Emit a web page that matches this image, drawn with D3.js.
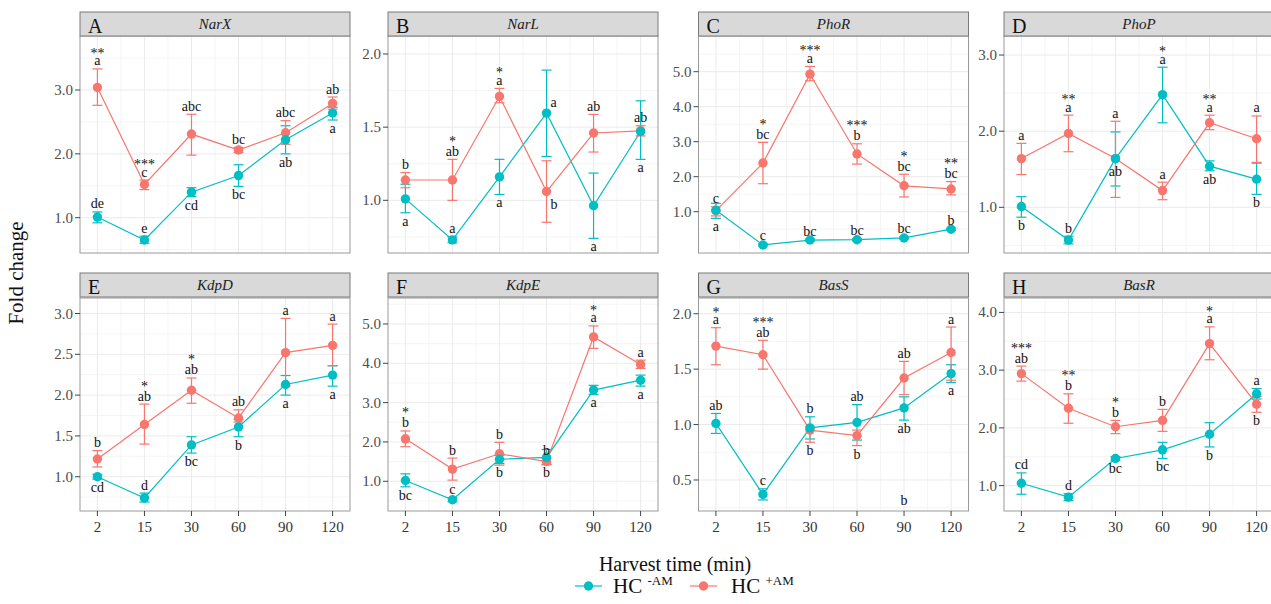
<!DOCTYPE html>
<html><head><meta charset="utf-8">
<script src="https://cdn.jsdelivr.net/npm/d3@7"></script>
<style>body{margin:0;background:#fff}</style>
</head><body><svg id="c" width="1271" height="604"></svg>
<script>
// ---------- DATA ----------
const times = ["2","15","30","60","90","120"];
const genes = ["NarX","NarL","PhoR","PhoP","KdpD","KdpE","BasS","BasR"];
const panelLetters = ["A","B","C","D","E","F","G","H"];
const seriesNames = ["HC-AM","HC+AM"];

// each entry: [mean, lower error, upper error]
const NarX_minus = [[1.01,0.92,1.09],[0.65,0.60,0.71],[1.40,1.33,1.47],[1.66,1.49,1.83],[2.22,2.00,2.44],[2.64,2.53,2.73]];
const NarX_plus  = [[3.04,2.76,3.33],[1.52,1.44,1.59],[2.31,1.98,2.62],[2.06,2.02,2.10],[2.33,2.15,2.52],[2.79,2.70,2.89]];
const NarL_minus = [[1.01,0.915,1.11],[0.73,0.71,0.75],[1.16,1.04,1.28],[1.596,1.30,1.89],[0.963,0.74,1.186],[1.47,1.28,1.68]];
const NarL_plus  = [[1.139,1.086,1.19],[1.139,1.0,1.28],[1.71,1.667,1.765],[1.06,0.85,1.27],[1.46,1.33,1.587],[1.475,1.44,1.51]];
const PhoR_minus = [[1.04,0.81,1.24],[0.05,0.02,0.08],[0.19,0.16,0.22],[0.20,0.17,0.23],[0.25,0.22,0.28],[0.50,0.47,0.53]];
const PhoR_plus  = [[1.03,0.88,1.14],[2.39,1.80,2.98],[4.93,4.74,5.15],[2.65,2.36,2.94],[1.74,1.42,2.07],[1.65,1.48,1.86]];
const PhoP_minus = [[1.01,0.87,1.14],[0.57,0.52,0.62],[1.64,1.28,1.99],[2.48,2.11,2.84],[1.54,1.48,1.61],[1.37,1.17,1.58]];
const PhoP_plus  = [[1.64,1.43,1.84],[1.97,1.73,2.21],[1.64,1.13,2.13],[1.22,1.10,1.33],[2.11,2.02,2.21],[1.90,1.59,2.20]];
const KdpD_minus = [[1.0,0.97,1.03],[0.74,0.69,0.80],[1.39,1.29,1.49],[1.61,1.49,1.70],[2.13,2.0,2.24],[2.245,2.11,2.36]];
const KdpD_plus  = [[1.217,1.12,1.32],[1.64,1.40,1.89],[2.06,1.90,2.21],[1.72,1.67,1.82],[2.52,2.11,2.94],[2.61,2.36,2.87]];
const KdpE_minus = [[1.02,0.86,1.19],[0.53,0.48,0.58],[1.56,1.45,1.66],[1.61,1.43,1.81],[3.32,3.21,3.44],[3.57,3.42,3.70]];
const KdpE_plus  = [[2.08,1.88,2.28],[1.31,1.03,1.59],[1.70,1.41,1.99],[1.50,1.42,1.58],[4.67,4.38,4.95],[3.97,3.87,4.08]];
const BasS_minus = [[1.01,0.92,1.10],[0.37,0.32,0.42],[0.97,0.87,1.07],[1.02,0.86,1.18],[1.15,1.04,1.25],[1.46,1.38,1.54]];
const BasS_plus  = [[1.708,1.54,1.874],[1.63,1.50,1.76],[0.95,0.84,0.98],[0.90,0.81,0.95],[1.42,1.27,1.57],[1.65,1.40,1.88]];
const BasR_minus = [[1.04,0.85,1.22],[0.80,0.74,0.86],[1.47,1.44,1.50],[1.62,1.47,1.75],[1.89,1.67,2.09],[2.59,2.50,2.68]];
const BasR_plus  = [[2.94,2.81,3.07],[2.34,2.08,2.59],[2.02,1.90,2.13],[2.13,1.94,2.32],[3.46,3.18,3.75],[2.41,2.27,2.54]];

// significance labels: [letters, stars, side]
const NarX_minusLab = [["de","","u"],["e","","u"],["cd","","d"],["bc","","d"],["ab","","d"],["a","","d"]];
const NarX_plusLab  = [["a","**","u"],["c","***","u"],["abc","","u"],["bc","","u"],["abc","","u"],["ab","","u"]];
const NarL_minusLab = [["a","","d"],["a","","u"],["a","","d"],["a","","ur"],["a","","d"],["a","","d"]];
const NarL_plusLab  = [["b","","u"],["ab","*","u"],["a","*","u"],["b","","dr"],["ab","","u"],["ab","","u"]];
const PhoR_minusLab = [["a","","d"],["c","","u"],["bc","","u"],["bc","","u"],["bc","","u"],["b","","u"]];
const PhoR_plusLab  = [["c","","u"],["bc","*","u"],["a","***","u"],["b","***","u"],["bc","*","u"],["bc","**","u"]];
const PhoP_minusLab = [["b","","d"],["b","","u"],["ab","","dm"],["a","*","u"],["ab","","d"],["b","","d"]];
const PhoP_plusLab  = [["a","","u"],["a","**","u"],["a","","u"],["a","","u"],["a","**","u"],["a","","u"]];
const KdpD_minusLab = [["cd","","d"],["d","","u"],["bc","","d"],["b","","d"],["a","","d"],["a","","d"]];
const KdpD_plusLab  = [["b","","u"],["ab","*","u"],["ab","*","u"],["ab","","u"],["a","","u"],["a","","u"]];
const KdpE_minusLab = [["bc","","d"],["c","","u"],["b","","d"],["b","","d"],["a","","d"],["a","","d"]];
const KdpE_plusLab  = [["b","*","u"],["b","","u"],["b","","u"],["b","","u"],["a","*","u"],["a","","u"]];
const BasS_minusLab = [["ab","","u"],["c","","u"],["b","","u"],["ab","","u"],["ab","","d"],["a","","d"]];
const BasS_plusLab  = [["a","*","u"],["ab","***","u"],["b","","d"],["b","","d"],["ab","","u"],["a","","u"]];
const BasR_minusLab = [["cd","","u"],["d","","u"],["bc","","d"],["bc","","d"],["b","","d"],["a","","u"]];
const BasR_plusLab  = [["ab","***","u"],["b","**","u"],["b","*","u"],["b","","u"],["a","*","u"],["b","","d"]];

const extraLabels = [{gene:"BasS", time:"90", value:0.32, text:"b"}];

const yDomains = [[0.447,3.846],[0.64,2.123],[-0.18,6.02],[0.40,3.25],[0.58,3.19],[0.245,5.66],[0.22,2.142],[0.56,4.25]];
const yTicks = [[1,2,3],[1,1.5,2],[1,2,3,4,5],[1,2,3],[1,1.5,2,2.5,3],[1,2,3,4,5],[0.5,1,1.5,2],[1,2,3,4]];

const dataMinus = [NarX_minus,NarL_minus,PhoR_minus,PhoP_minus,KdpD_minus,KdpE_minus,BasS_minus,BasR_minus];
const dataPlus  = [NarX_plus,NarL_plus,PhoR_plus,PhoP_plus,KdpD_plus,KdpE_plus,BasS_plus,BasR_plus];
const labMinus  = [NarX_minusLab,NarL_minusLab,PhoR_minusLab,PhoP_minusLab,KdpD_minusLab,KdpE_minusLab,BasS_minusLab,BasR_minusLab];
const labPlus   = [NarX_plusLab,NarL_plusLab,PhoR_plusLab,PhoP_plusLab,KdpD_plusLab,KdpE_plusLab,BasS_plusLab,BasR_plusLab];

// ---------- LAYOUT ----------
const FONT = "'Liberation Serif','Times New Roman',serif";
const RED = "#F8766D", CYAN = "#00BFC4";
const colLefts = [80, 388, 698.5, 1004];
const panelW = 270;
const stripTops = [12, 273];
const stripH = 24;
const plotTops = [36, 298];
const plotBottoms = [253, 511];
const fmt = d3.format(".1f");

const svg = d3.select("#c");
svg.append("rect").attr("width",1271).attr("height",604).attr("fill","#fff");

genes.forEach((gene, i) => {
  const col = i % 4, row = Math.floor(i / 4);
  const left = colLefts[col], right = left + panelW;
  const top = plotTops[row], bottom = plotBottoms[row];
  const g = svg.append("g");
  const x = d3.scalePoint().domain(times).range([left, right]).padding(0.37);
  const y = d3.scaleLinear().domain(yDomains[i]).range([bottom, top]);
  const ticks = yTicks[i];
  const step = ticks[1] - ticks[0];

  const clipId = "clip" + i;
  svg.append("clipPath").attr("id", clipId).append("rect")
    .attr("x", left).attr("y", top).attr("width", panelW).attr("height", bottom - top);
  const grid = g.append("g").attr("clip-path", `url(#${clipId})`);
  const minors = [];
  for (let v = ticks[0] - step / 2; v <= yDomains[i][1]; v += step) if (v >= yDomains[i][0]) minors.push(v);
  grid.selectAll(".hmin").data(minors).join("line")
    .attr("x1", left).attr("x2", right).attr("y1", d => y(d)).attr("y2", d => y(d))
    .attr("stroke", "#f3f3f3").attr("stroke-width", 0.8);
  const xmid = times.slice(1).map((t, k) => (x(t) + x(times[k])) / 2);
  grid.selectAll(".vmin").data(xmid).join("line")
    .attr("x1", d => d).attr("x2", d => d).attr("y1", top).attr("y2", bottom)
    .attr("stroke", "#f3f3f3").attr("stroke-width", 0.8);
  grid.selectAll(".hmaj").data(ticks).join("line")
    .attr("x1", left).attr("x2", right).attr("y1", d => y(d)).attr("y2", d => y(d))
    .attr("stroke", "#ebebeb").attr("stroke-width", 1);
  grid.selectAll(".vmaj").data(times).join("line")
    .attr("x1", d => x(d)).attr("x2", d => x(d)).attr("y1", top).attr("y2", bottom)
    .attr("stroke", "#ebebeb").attr("stroke-width", 1);

  g.append("rect").attr("x", left).attr("y", top).attr("width", panelW).attr("height", bottom - top)
    .attr("fill", "none").attr("stroke", "#9a9a9a").attr("stroke-width", 1);

  const st = stripTops[row];
  g.append("rect").attr("x", left).attr("y", st).attr("width", panelW).attr("height", stripH)
    .attr("fill", "#d9d9d9").attr("stroke", "#7a7a7a").attr("stroke-width", 1);
  g.append("text").attr("x", left + 8).attr("y", st + 21).text(panelLetters[i])
    .attr("font-family", FONT).attr("font-size", 20).attr("fill", "#111");
  g.append("text").attr("x", left + panelW / 2).attr("y", st + 17).text(gene)
    .attr("font-family", FONT).attr("font-size", 15).attr("font-style", "italic")
    .attr("text-anchor", "middle").attr("fill", "#222");

  const ya = g.append("g");
  ya.selectAll("line").data(ticks).join("line")
    .attr("x1", left - 5).attr("x2", left).attr("y1", d => y(d)).attr("y2", d => y(d))
    .attr("stroke", "#444").attr("stroke-width", 1);
  ya.selectAll("text").data(ticks).join("text")
    .attr("x", left - 7).attr("y", d => y(d) + 5).attr("text-anchor", "end")
    .attr("font-family", FONT).attr("font-size", 15).attr("fill", "#4d4d4d")
    .text(d => fmt(d));

  if (row === 1) {
    const xa = g.append("g");
    xa.selectAll("line").data(times).join("line")
      .attr("x1", d => x(d)).attr("x2", d => x(d)).attr("y1", bottom).attr("y2", bottom + 5)
      .attr("stroke", "#444").attr("stroke-width", 1);
    xa.selectAll("text").data(times).join("text")
      .attr("x", d => x(d)).attr("y", bottom + 20.5).attr("text-anchor", "middle")
      .attr("font-family", FONT).attr("font-size", 15).attr("fill", "#333")
      .text(d => d);
  }

  const series = [
    {data: dataMinus[i], lab: labMinus[i], color: CYAN},
    {data: dataPlus[i], lab: labPlus[i], color: RED}
  ];
  const line = d3.line().x((d, k) => x(times[k])).y(d => y(d[0]));
  series.forEach(s => {
    g.append("path").attr("d", line(s.data)).attr("fill", "none")
      .attr("stroke", s.color).attr("stroke-width", 1.2);
  });
  series.forEach(s => {
    const eb = g.append("g").attr("stroke", s.color).attr("stroke-width", 1.2);
    s.data.forEach((d, k) => {
      const cx = x(times[k]);
      eb.append("line").attr("x1", cx).attr("x2", cx).attr("y1", y(d[1])).attr("y2", y(d[2]));
      eb.append("line").attr("x1", cx - 5).attr("x2", cx + 5).attr("y1", y(d[1])).attr("y2", y(d[1]));
      eb.append("line").attr("x1", cx - 5).attr("x2", cx + 5).attr("y1", y(d[2])).attr("y2", y(d[2]));
    });
  });
  [series[1], series[0]].forEach(s => {
    g.selectAll(null).data(s.data).join("circle")
      .attr("cx", (d, k) => x(times[k])).attr("cy", d => y(d[0])).attr("r", 4.7)
      .attr("fill", s.color);
  });

  series.forEach(s => {
    s.data.forEach((d, k) => {
      const [txt, stars, side] = s.lab[k];
      const cx = x(times[k]);
      let tx = cx, ty, anchor = "middle";
      if (side === "u") ty = y(d[2]) - 3.5;
      else if (side === "d") ty = y(d[1]) + 13;
      else if (side === "dm") ty = y(d[0]) + 17;
      else if (side === "ur") { tx = cx + 4; ty = y(d[0]) - 6; anchor = "start"; }
      else if (side === "dr") { tx = cx + 4; ty = y(d[0]) + 17; anchor = "start"; }
      g.append("text").attr("x", tx).attr("y", ty).attr("text-anchor", anchor)
        .attr("font-family", FONT).attr("font-size", 14).attr("fill", "#111").text(txt);
      if (stars) {
        const off = /[bdhk]/.test(txt) ? 10 : 7.5;
        g.append("text").attr("x", tx).attr("y", ty - off).attr("text-anchor", anchor)
          .attr("font-family", FONT).attr("font-size", 14).attr("fill", "#111").text(stars);
      }
    });
  });
  extraLabels.filter(e => e.gene === gene).forEach(e => {
    g.append("text").attr("x", x(e.time)).attr("y", y(e.value) + 5).attr("text-anchor", "middle")
      .attr("font-family", FONT).attr("font-size", 14).attr("fill", "#111").text(e.text);
  });
});

svg.append("text").attr("transform", "translate(23,273) rotate(-90)")
  .attr("text-anchor", "middle").attr("font-family", FONT).attr("font-size", 21)
  .attr("fill", "#111").text("Fold change");
svg.append("text").attr("x", 675).attr("y", 571).attr("text-anchor", "middle")
  .attr("font-family", FONT).attr("font-size", 20).attr("fill", "#111").text("Harvest time (min)");

const legend = svg.append("g");
const legItems = [
  {color: CYAN, cx: 588.5, tx: 613, sup: "-AM"},
  {color: RED, cx: 703.5, tx: 731, sup: "+AM"}
];
seriesNames.forEach((name, k) => {
  const it = legItems[k];
  legend.append("line").attr("x1", it.cx - 13.5).attr("x2", it.cx + 13.5).attr("y1", 586).attr("y2", 586)
    .attr("stroke", it.color).attr("stroke-width", 1.2);
  legend.append("circle").attr("cx", it.cx).attr("cy", 586).attr("r", 4.7).attr("fill", it.color);
  const t = legend.append("text").attr("x", it.tx).attr("y", 593)
    .attr("font-family", FONT).attr("font-size", 21).attr("fill", "#111");
  t.append("tspan").text(name.slice(0, 2) + " ");
  t.append("tspan").attr("font-size", 13).attr("dy", -8).text(it.sup);
});
</script>
</body></html>
